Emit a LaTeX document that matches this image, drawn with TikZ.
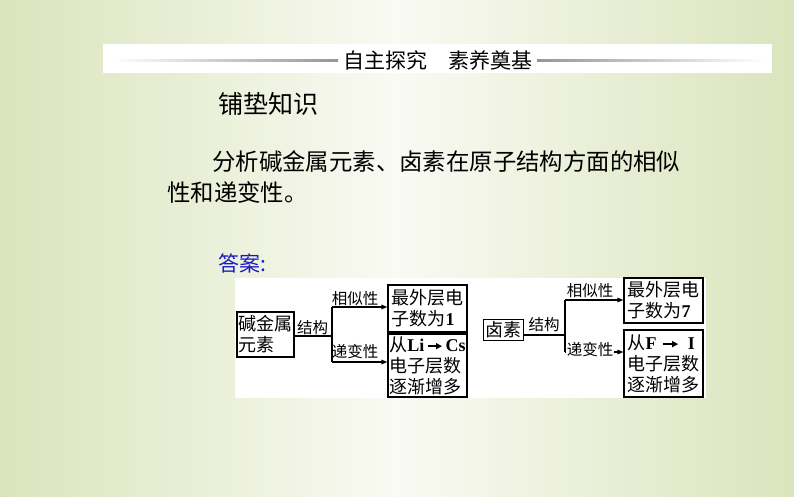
\documentclass[tikz,border=0pt]{standalone}
\usepackage{fontspec}
\setmainfont{Noto Sans CJK SC}
\newfontfamily\lat{Liberation Serif}
\usetikzlibrary{arrows.meta}
\definecolor{bgG}{RGB}{218,228,188}
\definecolor{bgW}{RGB}{249,250,243}
\definecolor{ansblue}{RGB}{25,25,195}
\definecolor{rulegray}{RGB}{150,150,150}
\newcommand{\txtarrow}[1]{\tikz[baseline={(0pt,-5pt)}]\draw[line width=1.3pt,-{Triangle[length=6pt,width=6pt]}] (0pt,0pt) -- (#1,0pt);}
\begin{document}
\begin{tikzpicture}[x=1pt,y=-1pt,
  box/.style={draw,line width=1.2pt,fill=white,inner sep=1pt,align=left,font=\fontsize{18}{21}\selectfont},
  lbl/.style={inner sep=0.5pt,font=\fontsize{15.5}{15.5}\selectfont},
  conn/.style={line width=1.2pt},
  arr/.style={conn,-{Triangle[length=6pt,width=4.5pt]}},
  txt/.style={inner sep=0pt,anchor=west}]
\useasboundingbox (0,0) rectangle (794,496);
\shade[left color=bgG,right color=bgG,middle color=bgW] (0,0) rectangle (794,496);
% banner
\fill[white] (103,44) rectangle (772,73);
\shade[left color=white,right color=rulegray] (112,59.4) rectangle (338,61);
\shade[left color=rulegray,right color=white] (537,59.4) rectangle (765,61);
\node[inner sep=0pt,font=\fontsize{21}{21}\selectfont] (banner) at (438,60) {自主探究　素养奠基};
% heading and paragraph
\node[txt,font=\fontsize{25}{25}\selectfont] (head) at (218,104) {铺垫知识};
\node[txt,font=\fontsize{23.4}{23.4}\selectfont] (p1) at (212,162) {分析碱金属元素、卤素在原子结构方面的相似};
\node[txt,font=\fontsize{23.4}{23.4}\selectfont] (p2) at (167,193) {性和递变性。};
\node[txt,font=\fontsize{21}{21}\selectfont,text=ansblue] (ans) at (218,263) {答案:};
% white answer panel
\fill[white] (235,278) rectangle (706,398);
% left diagram
\node[box,minimum width=57pt,minimum height=45pt] (A1) at (265.5,334.5) {碱金属\\元素};
\node[box,minimum width=79pt,minimum height=47pt] (B1) at (427.5,308.5) {最外层电\\子数为{\lat\bfseries 1}};
\node[box,minimum width=79pt,minimum height=63pt] (C1) at (427.5,365.5) {从{\lat\bfseries Li}\,\txtarrow{14pt}\,{\lat\bfseries Cs}\\电子层数\\逐渐增多};
\coordinate (s1) at (332,336);
\coordinate (t1) at (332,307);
\coordinate (u1) at (332,362);
\draw[conn] (A1.east |- s1) -- (s1);
\draw[conn] (t1) -- (u1);
\draw[arr] (t1) -- (B1.west |- t1);
\draw[arr] (u1) -- (C1.west |- u1);
\node[lbl] (L1a) at (312.5,328) {结构};
\node[lbl] (L1b) at (355,299) {相似性};
\node[lbl] (L1c) at (355,352) {递变性};
% right diagram
\node[box,minimum width=40pt,minimum height=21pt] (A2) at (503.5,330) {卤素};
\node[box,minimum width=79pt,minimum height=45pt] (B2) at (663.5,300.5) {最外层电\\子数为{\lat\bfseries 7}};
\node[box,minimum width=79pt,minimum height=67pt] (C2) at (663.5,363.5) {从{\lat\bfseries F}\hspace{6pt}\txtarrow{15pt}\hspace{9pt}{\lat\bfseries I}\\电子层数\\逐渐增多};
\coordinate (s2) at (565,335);
\coordinate (t2) at (565,300);
\coordinate (u2) at (565,352);
\draw[conn] (A2.east |- s2) -- (s2);
\draw[conn] (t2) -- (u2);
\draw[arr] (t2) -- (B2.west |- t2);
\draw[arr] (u2) -- (C2.west |- u2);
\node[lbl] (L2a) at (544,325) {结构};
\node[lbl] (L2b) at (590,291) {相似性};
\node[lbl,fill=white] (L2c) at (590,350) {递变性};
\end{tikzpicture}
\end{document}
